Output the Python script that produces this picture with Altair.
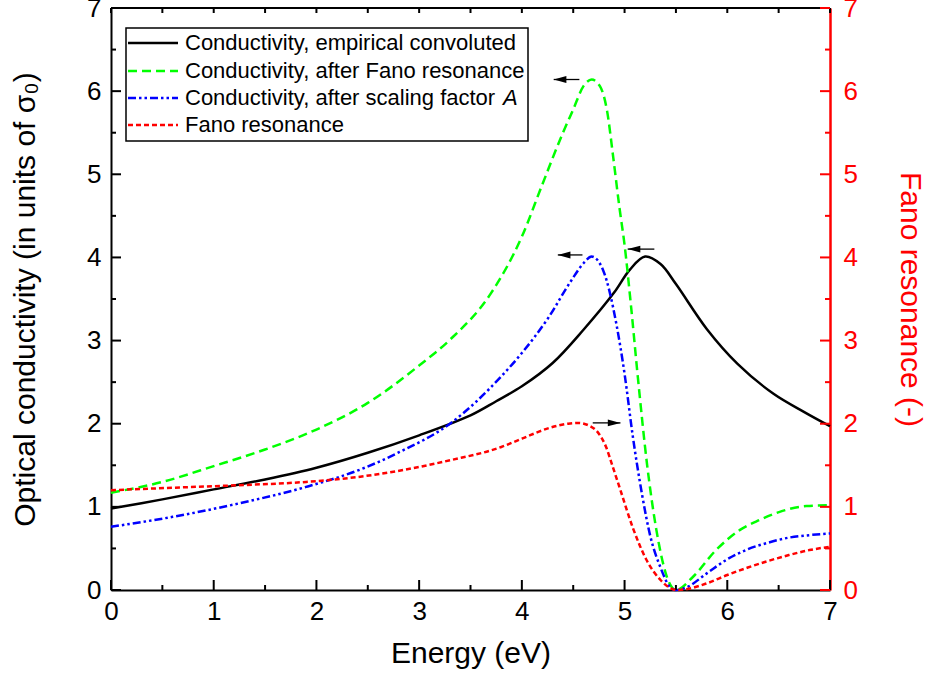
import altair as alt
import pandas as pd

# ---------------- data ----------------
black_x = [0, 0.5, 1.0, 1.5, 2.0, 2.5, 3.0, 3.5, 3.75, 4.0, 4.3, 4.6, 4.9, 5.05, 5.2, 5.35, 5.5, 5.8, 6.1, 6.45, 6.75, 7.0]
black_y = [0.98, 1.09, 1.21, 1.33, 1.47, 1.65, 1.86, 2.1, 2.27, 2.45, 2.73, 3.13, 3.58, 3.85, 4.01, 3.92, 3.68, 3.14, 2.72, 2.36, 2.14, 1.97]

green_x = [0, 0.5, 1.0, 1.5, 2.0, 2.5, 3.0, 3.3, 3.7, 4.0, 4.2, 4.4, 4.5, 4.6, 4.68, 4.76, 4.83, 4.89, 4.95, 5.0,
           5.06, 5.13, 5.22, 5.31, 5.43, 5.5, 5.66, 5.89, 6.12, 6.31, 6.51, 6.77, 7.0]
green_y = [1.17, 1.30, 1.49, 1.69, 1.93, 2.25, 2.70, 3.01, 3.57, 4.25, 4.88, 5.5, 5.78, 6.06, 6.14, 6.06, 5.76, 5.2, 4.6, 4.15,
           3.45, 2.55, 1.5, 0.72, 0.1, 0.0, 0.15, 0.48, 0.72, 0.84, 0.94, 1.01, 1.02]

blue_x = [0, 0.6, 1.24, 1.9, 2.47, 2.81, 3.3, 3.8, 4.0, 4.25, 4.48, 4.6, 4.68, 4.79, 4.92, 5.0, 5.08, 5.17, 5.25, 5.35,
          5.44, 5.5, 5.6, 5.8, 6.0, 6.2, 6.4, 6.6, 6.8, 7.0]
blue_y = [0.76, 0.88, 1.04, 1.24, 1.47, 1.66, 2.0, 2.57, 2.85, 3.26, 3.72, 3.93, 4.01, 3.85, 3.2, 2.6, 1.85, 1.15, 0.65, 0.27,
          0.04, 0.0, 0.03, 0.2, 0.37, 0.49, 0.57, 0.63, 0.66, 0.68]

red_x = [0, 0.6, 1.24, 1.9, 2.47, 3.3, 3.8, 4.0, 4.27, 4.45, 4.55, 4.65, 4.75, 4.82, 4.88, 4.96, 5.08, 5.21, 5.35, 5.45,
         5.5, 5.6, 5.8, 6.0, 6.2, 6.4, 6.6, 6.8, 7.0]
red_y = [1.20, 1.23, 1.26, 1.30, 1.37, 1.56, 1.72, 1.82, 1.95, 2.0, 2.01, 1.98, 1.88, 1.72, 1.5, 1.2, 0.75, 0.37, 0.12, 0.02,
         0.0, 0.01, 0.08, 0.18, 0.27, 0.35, 0.42, 0.48, 0.52]

series_names = [
    "Conductivity, empirical convoluted",
    "Conductivity, after Fano resonance",
    "Conductivity, after scaling factor",
    "Fano resonance",
]

# arrows: head x, tail x, y  (left axis: black, green, blue ; right axis: red)
arrow_left_head = [5.03, 4.31, 4.35]
arrow_left_tail = [5.29, 4.56, 4.59]
arrow_left_y = [4.10, 6.14, 4.03]
arrow_right_head = [4.96]
arrow_right_tail = [4.69]
arrow_right_y = [2.01]

major_ticks = [0, 1, 2, 3, 4, 5, 6, 7]
minor_ticks = [0.5, 1.5, 2.5, 3.5, 4.5, 5.5, 6.5]

# ---------------- layout ----------------
W, H = 719, 582
FONT = "Liberation Sans"

black_df = pd.DataFrame({"x": black_x, "y": black_y})
gb_df = pd.concat([
    pd.DataFrame({"x": green_x, "y": green_y, "s": series_names[1]}),
    pd.DataFrame({"x": blue_x, "y": blue_y, "s": series_names[2]}),
])
red_df = pd.DataFrame({"x": red_x, "y": red_y})

xs = alt.Scale(domain=[0, 7], nice=False, zero=False)
ys = alt.Scale(domain=[0, 7], nice=False, zero=False)

x_axis = alt.Axis(values=major_ticks, tickSize=0, grid=False, labelFontSize=26, labelFont=FONT,
                  labelColor="black", labelPadding=8, title="Energy (eV)", titleFont=FONT,
                  titleFontSize=30, titleFontWeight="normal", titleColor="black", titlePadding=14,
                  domainColor="black", domainWidth=2, labelFlush=False)
yl_axis = alt.Axis(values=major_ticks, tickSize=0, grid=False, labelFontSize=26, labelFont=FONT,
                   labelColor="black", labelPadding=10, title="Optical conductivity (in units of σ₀)",
                   titleFont=FONT, titleFontSize=30, titleFontWeight="normal", titleColor="black",
                   titlePadding=46, domainColor="black", domainWidth=2, labelFlush=False)
yr_axis = alt.Axis(orient="right", values=major_ticks, tickSize=0, grid=False, labelFontSize=26,
                   labelFont=FONT, labelColor="#ff0000", labelPadding=13, title="Fano resonance (-)",
                   titleFont=FONT, titleFontSize=30, titleFontWeight="normal", titleColor="#ff0000",
                   titlePadding=37, domainColor="#ff0000", domainWidth=2.5, labelFlush=False)

X = lambda f: alt.X(f, type="quantitative", scale=xs, axis=x_axis)
YL = lambda f: alt.Y(f, type="quantitative", scale=ys, axis=yl_axis)
YR = lambda f: alt.Y(f, type="quantitative", scale=ys, axis=yr_axis)

dash_range = [[9, 5], [8, 3, 2.5, 3, 2.5, 3]]
color_range = ["#00ff00", "#0000ff"]

line_black = alt.Chart(black_df).mark_line(strokeWidth=2.5, interpolate="catmull-rom", color="black").encode(
    x=X("x"), y=YL("y"))

lines_gb = alt.Chart(gb_df).mark_line(strokeWidth=2.5, interpolate="monotone").encode(
    x=X("x"), y=YL("y"),
    color=alt.Color("s:N", scale=alt.Scale(domain=series_names[1:3], range=color_range), legend=None),
    strokeDash=alt.StrokeDash("s:N", scale=alt.Scale(domain=series_names[1:3], range=dash_range), legend=None),
    detail="s:N",
)

line_red = alt.Chart(red_df).mark_line(strokeWidth=2.5, interpolate="monotone", color="#ff0000",
                                       strokeDash=[5, 3]).encode(x=X("x"), y=YR("y"))

maj_df = pd.DataFrame({"t": major_ticks})
min_df = pd.DataFrame({"t": minor_ticks})

def xticks(df, y0, y1):
    return alt.Chart(df).mark_rule(color="black", strokeWidth=2).encode(
        x=X("t"), y=alt.value(y0), y2=alt.value(y1))

def lticks(df, ln):
    return alt.Chart(df).mark_rule(color="black", strokeWidth=2).encode(
        y=YL("t"), x=alt.value(0), x2=alt.value(ln))

def rticks(df, ln):
    return alt.Chart(df).mark_rule(color="#ff0000", strokeWidth=2).encode(
        y=YR("t"), x=alt.value(W - ln), x2=alt.value(W))

dummy = pd.DataFrame({"d": [0]})
top_border = alt.Chart(dummy).mark_rule(color="black", strokeWidth=2).encode(
    x=alt.value(0), x2=alt.value(W), y=alt.value(0))

arr_l = pd.DataFrame({"h": arrow_left_head, "t": arrow_left_tail, "y": arrow_left_y})
arr_r = pd.DataFrame({"h": arrow_right_head, "t": arrow_right_tail, "y": arrow_right_y})

LEFT_HEAD = "M0,0L2,-0.55L2,0.55Z"
RIGHT_HEAD = "M0,0L-2,-0.55L-2,0.55Z"

arrows_l = alt.layer(
    alt.Chart(arr_l).mark_rule(color="black", strokeWidth=1.3).encode(x=X("h"), x2="t", y=YL("y")),
    alt.Chart(arr_l).mark_point(shape=LEFT_HEAD, filled=True, color="black", size=160, opacity=1,
                                strokeWidth=0).encode(x=X("h"), y=YL("y")),
)
arrows_r = alt.layer(
    alt.Chart(arr_r).mark_rule(color="black", strokeWidth=1.3).encode(x=X("h"), x2="t", y=YR("y")),
    alt.Chart(arr_r).mark_point(shape=RIGHT_HEAD, filled=True, color="black", size=160, opacity=1,
                                strokeWidth=0).encode(x=X("h"), y=YR("y")),
)

# ---------------- manual legend ----------------
LB = dict(x0=15, x1=417, y0=20, y1=133)
rows_y = [35, 63, 90, 117]
sample_x0, sample_x1, text_x = 17, 67, 74
legend_layers = [
    alt.Chart(dummy).mark_rect(fill="white", stroke="black", strokeWidth=1.5).encode(
        x=alt.value(LB["x0"]), x2=alt.value(LB["x1"]), y=alt.value(LB["y0"]), y2=alt.value(LB["y1"]))
]
sample_styles = [("#000000", [1, 0]), ("#00ff00", [9, 5]), ("#0000ff", [8, 3, 2.5, 3, 2.5, 3]), ("#ff0000", [5, 3])]
for i, (col, dash) in enumerate(sample_styles):
    legend_layers.append(alt.Chart(dummy).mark_rule(color=col, strokeWidth=2.5, strokeDash=dash).encode(
        x=alt.value(sample_x0), x2=alt.value(sample_x1), y=alt.value(rows_y[i])))
    legend_layers.append(alt.Chart(dummy).mark_text(align="left", baseline="middle", font=FONT, fontSize=22,
                                                    color="black").encode(
        x=alt.value(text_x), y=alt.value(rows_y[i]), text=alt.value(series_names[i])))
legend_layers.append(alt.Chart(dummy).mark_text(align="left", baseline="middle", font=FONT, fontSize=22,
                                                fontStyle="italic", color="black").encode(
    x=alt.value(text_x + 318), y=alt.value(rows_y[2]), text=alt.value("A")))

left = alt.layer(
    line_black, lines_gb,
    xticks(maj_df, H, H - 10), xticks(min_df, H, H - 5),
    xticks(maj_df, 0, 5), xticks(min_df, 0, 5),
    lticks(maj_df, 10), lticks(min_df, 5),
    top_border,
    arrows_l,
    *legend_layers,
)
right = alt.layer(line_red, rticks(maj_df, 10), rticks(min_df, 5), arrows_r)

chart = alt.layer(left, right).resolve_scale(y="independent").properties(
    width=W, height=H,
    autosize=alt.AutoSizeParams(type="none"),
    padding={"left": 111, "top": 8, "right": 98, "bottom": 90},
    background="white",
).configure_view(stroke=None)

chart.save("out.html", embed_options={"renderer": "svg", "actions": False})
